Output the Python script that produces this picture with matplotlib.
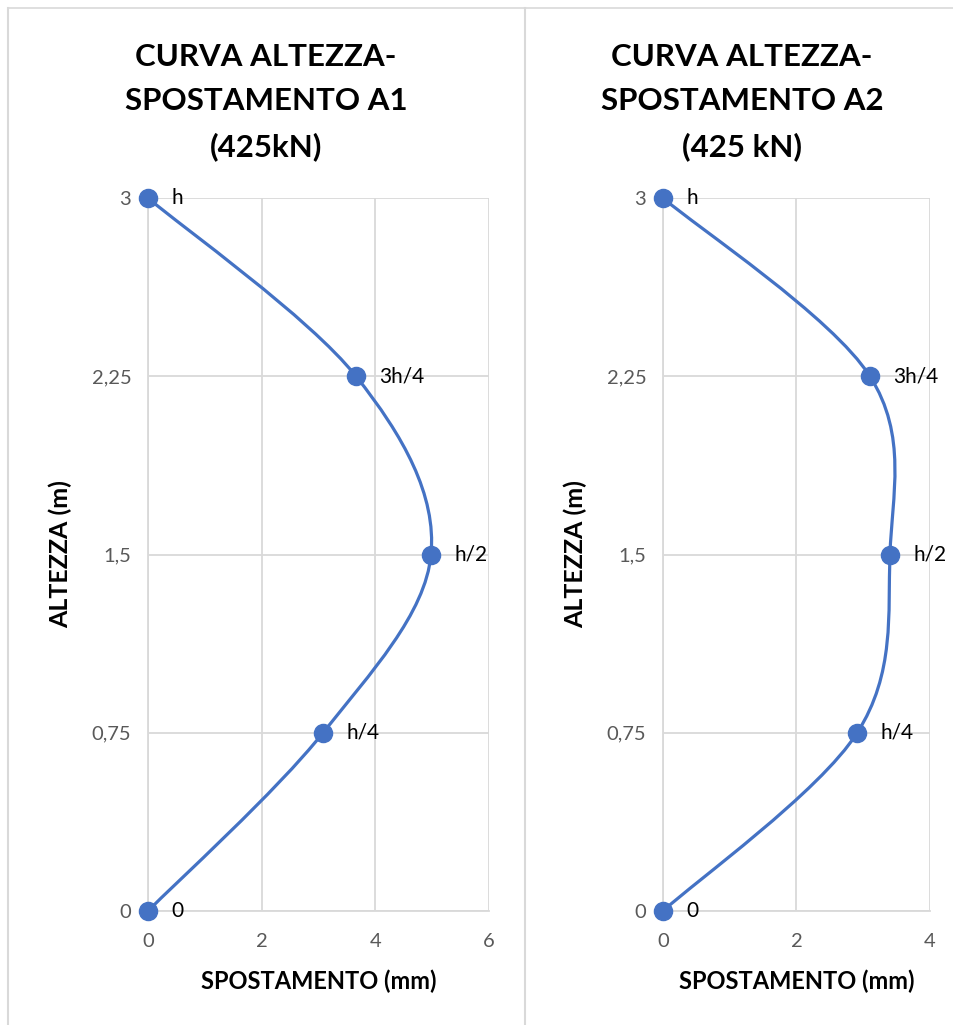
import numpy as np
import matplotlib.pyplot as plt
from matplotlib.path import Path
from matplotlib.patches import PathPatch

plt.rcParams['font.family'] = ['Lato', 'DejaVu Sans']

# dati delle due prove (spostamento in mm, altezza in m)
altezze = [0, 0.75, 1.5, 2.25, 3]
etichette = ['0', 'h/4', 'h/2', '3h/4', 'h']
spost_a1 = [0, 3.08, 4.98, 3.66, 0]
spost_a2 = [0, 2.91, 3.40, 3.10, 0]

titolo_a1 = 'CURVA ALTEZZA-\nSPOSTAMENTO A1\n(425kN)'
titolo_a2 = 'CURVA ALTEZZA-\nSPOSTAMENTO A2\n(425 kN)'
xlim_a1 = (0, 6)
xlim_a2 = (0, 4)
yticks = [0, 0.75, 1.5, 2.25, 3]
ytick_lab = ['0', '0,75', '1,5', '2,25', '3']

BLU = '#4472C4'
GRIGIO = '#D9D9D9'
TESTO = '#595959'


def curva_smussata(ax, xs, ys):
    """Linea smussata tipo Excel: bezier cubiche calcolate in coordinate schermo."""
    pts = ax.transData.transform(np.column_stack([xs, ys]))
    n = len(pts)
    verts = [pts[0]]
    codes = [Path.MOVETO]
    for i in range(n - 1):
        p_prev = pts[max(i - 1, 0)]
        p0 = pts[i]
        p1 = pts[i + 1]
        p_next = pts[min(i + 2, n - 1)]
        c1 = p0 + (p1 - p_prev) / 6
        c2 = p1 - (p_next - p0) / 6
        verts += [c1, c2, p1]
        codes += [Path.CURVE4] * 3
    verts = ax.transData.inverted().transform(np.array(verts))
    patch = PathPatch(Path(verts, codes), facecolor='none', edgecolor=BLU,
                      lw=2.3, zorder=3, capstyle='round')
    ax.add_patch(patch)


def grafico(fig, rect, xs, xlim, titolo, cx):
    ax = fig.add_axes(rect)
    ax.set_xlim(*xlim)
    ax.set_ylim(0, 3)
    ax.set_xticks(np.arange(xlim[0], xlim[1] + 1, 2))
    ax.set_yticks(yticks)
    ax.set_yticklabels(ytick_lab)
    ax.grid(True, color=GRIGIO, lw=1.3)
    ax.set_axisbelow(True)
    for s in ['top', 'right']:
        ax.spines[s].set_visible(False)
    for s in ['left', 'bottom']:
        ax.spines[s].set_color(GRIGIO)
        ax.spines[s].set_linewidth(1.3)
    ax.tick_params(length=0, colors=TESTO, labelsize=14.5)
    ax.tick_params(axis='x', pad=16)
    ax.tick_params(axis='y', pad=12)

    curva_smussata(ax, xs, altezze)
    ax.scatter(xs, altezze, s=170, color=BLU, zorder=4, clip_on=False)
    for x, y, t in zip(xs, altezze, etichette):
        ax.annotate(t, (x, y), xytext=(17, 0), textcoords='offset points',
                    va='center', ha='left', fontsize=15, color='black')

    ax.set_xlabel('SPOSTAMENTO (mm)', fontsize=17, fontweight='bold', labelpad=14)
    ax.set_ylabel('ALTEZZA (m)', fontsize=18, fontweight='bold', labelpad=14)
    fig.text(cx, 1 - 102 / 1025, titolo, ha='center', va='center', fontsize=22.5,
             fontweight='bold', linespacing=1.72)
    return ax


fig = plt.figure(figsize=(9.54, 10.25), dpi=100)

# cornici dei due riquadri
fig.add_artist(plt.Line2D([8 / 954, 1], [1 - 8 / 1025] * 2, color=GRIGIO, lw=1.2))
fig.add_artist(plt.Line2D([8 / 954] * 2, [0, 1 - 8 / 1025], color=GRIGIO, lw=1.5))
fig.add_artist(plt.Line2D([525 / 954] * 2, [0, 1 - 8 / 1025], color=GRIGIO, lw=1.5))

h_ax = 713 / 1025
b_ax = 1 - 911 / 1025
grafico(fig, [148 / 954, b_ax, 341 / 954, h_ax], spost_a1, xlim_a1, titolo_a1, 266 / 954)
grafico(fig, [663 / 954, b_ax, 267 / 954, h_ax], spost_a2, xlim_a2, titolo_a2, 742 / 954)

fig.savefig('out.png', dpi=100, facecolor='white')
